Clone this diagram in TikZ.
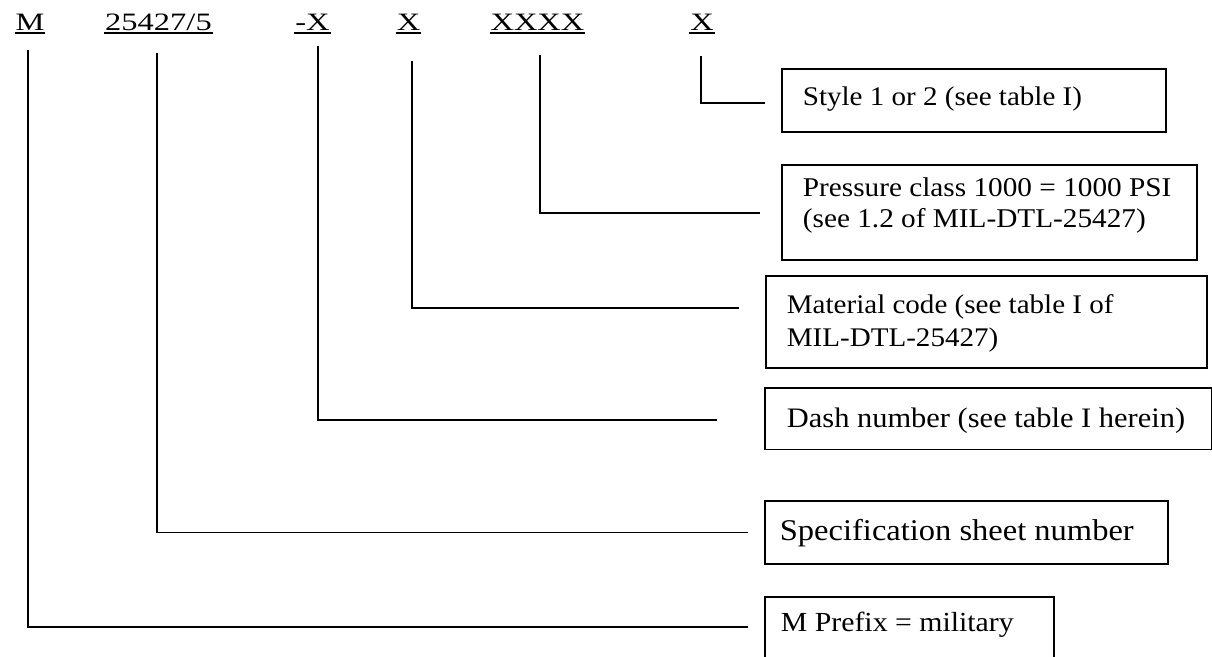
\documentclass[tikz,border=0pt]{standalone}
\usepackage{fontspec}
\setmainfont{Liberation Serif}[FakeStretch=1.08]
\newfontfamily\lblfont{Liberation Serif}[FakeStretch=1.3]
\begin{document}
\begin{tikzpicture}[x=1pt,y=-1pt,line width=1.8pt,
  lbl/.style={inner sep=0pt,anchor=base,font=\lblfont\fontsize{25}{30}\selectfont},
  uline/.style={line width=1.8pt},
  box/.style={draw,line width=1.8pt,anchor=north west,inner sep=0pt},
  txt/.style={inner sep=0pt,anchor=base west,align=left},
  conn/.style={line width=1.8pt}]
\useasboundingbox (0,0) rectangle (1212,656);

% code labels
\node[lbl] (lM)     at (30,30)    {M};
\node[lbl] (lSpec)  at (158.5,30) {25427/5};
\node[lbl] (lDash)  at (312.5,30) {-X};
\node[lbl] (lMat)   at (408.5,30) {X};
\node[lbl] (lPress) at (537.5,30) {XXXX};
\node[lbl] (lStyle) at (702,30)   {X};
\foreach \n in {lM,lSpec,lDash,lMat,lPress,lStyle}
  \draw[uline] ([yshift=-3.3pt]\n.base west) -- ([yshift=-3.3pt]\n.base east);

% boxes
\node[box,minimum width=384pt,minimum height=63pt]   (bStyle) at (781,68)  {};
\node[box,minimum width=415pt,minimum height=95pt]   (bPress) at (781,164) {};
\node[box,minimum width=441pt,minimum height=92pt]   (bMat)   at (765,275) {};
\node[box,minimum width=447pt,minimum height=61.5pt] (bDash)  at (764,387) {};
\node[box,minimum width=403pt,minimum height=63pt]   (bSpec)  at (764,500) {};
\node[box,minimum width=289pt,minimum height=64pt]   (bM)     at (764,596) {};

% box texts (node base = baseline of last line)
\node[txt,font=\fontsize{26.9}{31}\selectfont] (tStyle) at (802,105) {Style 1 or 2 (see table I)};
\node[txt,font=\fontsize{27.1}{31}\selectfont] (tPress) at (802,227) {Pressure class 1000 = 1000 PSI\\(see 1.2 of MIL-DTL-25427)};
\node[txt,font=\fontsize{26.9}{33}\selectfont] (tMat)   at (786,346) {Material code (see table I of\\MIL-DTL-25427)};
\node[txt,font=\fontsize{28.2}{30}\selectfont] (tDash)  at (786,427) {Dash number (see table I herein)};
\node[txt,font=\fontsize{30.1}{30}\selectfont] (tSpec)  at (779,540) {Specification sheet number};
\node[txt,font=\fontsize{27.6}{30}\selectfont] (tM)     at (780,631) {M Prefix = military};

% connector starts
\coordinate (sM)     at (28,50);
\coordinate (sSpec)  at (157,53);
\coordinate (sDash)  at (318,45.5);
\coordinate (sMat)   at (412,61);
\coordinate (sPress) at (540,55);
\coordinate (sStyle) at (701,56);

% connectors
\draw[conn] (sM)     |- ([xshift=-16pt,yshift=2pt]bM.west);
\draw[conn] (sSpec)  |- ([xshift=-16pt]bSpec.west);
\draw[conn] (sDash)  |- ([xshift=-47pt,yshift=-1.25pt]bDash.west);
\draw[conn] (sMat)   |- ([xshift=-26pt,yshift=14pt]bMat.west);
\draw[conn] (sPress) |- ([xshift=-21pt,yshift=-0.5pt]bPress.west);
\draw[conn] (sStyle) |- ([xshift=-16pt,yshift=-2.5pt]bStyle.west);
\end{tikzpicture}
\end{document}
